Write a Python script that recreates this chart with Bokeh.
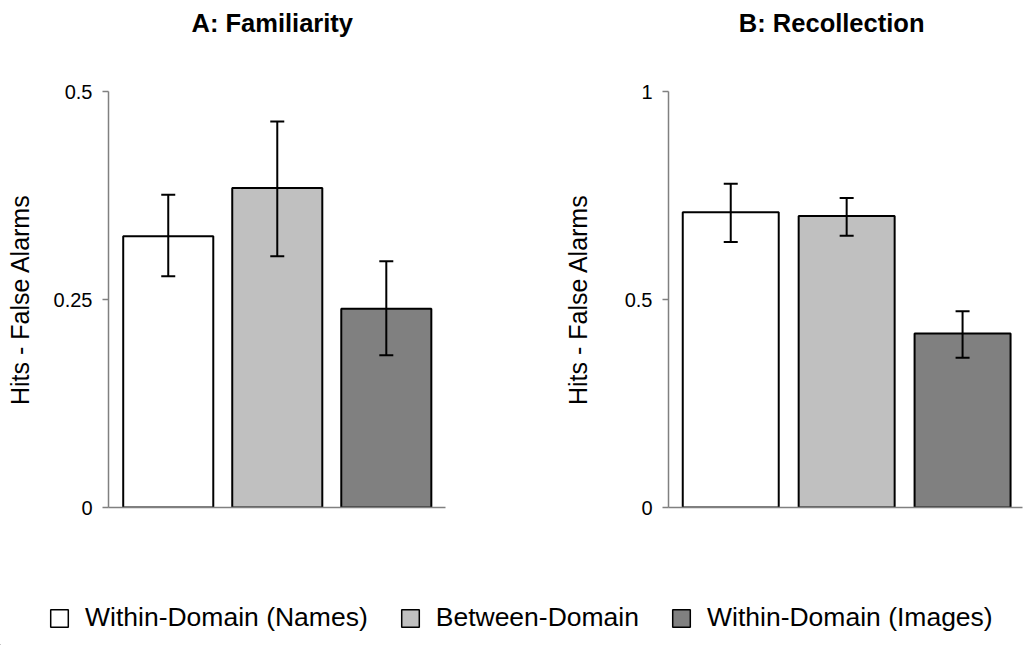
from bokeh.plotting import figure
from bokeh.models import (ColumnDataSource, Whisker, TeeHead, FixedTicker, Legend,
                          LegendItem, Range1d)
from bokeh.core.properties import value
from bokeh.layouts import row, column
from bokeh.embed import file_html
from bokeh.resources import INLINE

# ---- data ----
conditions = ["Within-Domain (Names)", "Between-Domain", "Within-Domain (Images)"]
colors = ["#ffffff", "#c0c0c0", "#808080"]

fam_values = [0.326, 0.384, 0.239]
fam_upper = [0.376, 0.464, 0.296]
fam_lower = [0.278, 0.302, 0.183]

rec_values = [0.710, 0.701, 0.418]
rec_upper = [0.778, 0.744, 0.472]
rec_lower = [0.638, 0.653, 0.360]

fam_ticks = [0, 0.25, 0.5]
fam_tick_labels = ["0", "0.25", "0.5"]
rec_ticks = [0, 0.5, 1]
rec_tick_labels = ["0", "0.5", "1"]

titles = ["A: Familiarity", "B: Recollection"]
y_label = "Hits - False Alarms"

FONT = "Liberation Sans"
AXIS_GRAY = "#808080"
TITLE_H = 45


def blank(p):
    p.axis.visible = False
    p.grid.visible = False
    p.outline_line_color = None


def title_fig(title, width, mb, x_rng, dx):
    t = figure(width=width, height=TITLE_H, x_range=Range1d(*x_rng),
               y_range=Range1d(0, 1), output_backend="svg", toolbar_location=None,
               min_border_left=mb[0], min_border_right=mb[1], min_border_top=0,
               min_border_bottom=0)
    blank(t)
    # centred over the middle category of the panel below
    t.text(x=[(len(conditions) - 1) / 2], y=[0.5], text=[title], x_offset=dx,
           text_align="center", text_baseline="middle", text_font=value(FONT),
           text_font_size="25.5px", text_font_style="bold", text_color="black")
    return t


def panel(vals, up, lo, ticks, tick_labels, width, height, mb, x_rng,
          bar_w, label_standoff):
    xs = list(range(len(conditions)))
    src = ColumnDataSource(dict(x=xs, top=vals, upper=up, lower=lo, color=colors))
    p = figure(width=width, height=height, x_range=Range1d(*x_rng),
               y_range=Range1d(ticks[0], ticks[-1]), output_backend="svg",
               toolbar_location=None, min_border_left=mb[0], min_border_right=mb[1],
               min_border_top=mb[2], min_border_bottom=mb[3])
    p.vbar(x="x", top="top", bottom=0, width=bar_w, fill_color="color",
           line_color="black", line_width=2, source=src)
    w = Whisker(base="x", upper="upper", lower="lower", source=src,
                line_width=2, line_color="black",
                upper_head=TeeHead(size=14, line_width=2, line_color="black"),
                lower_head=TeeHead(size=14, line_width=2, line_color="black"))
    w.level = "overlay"
    p.add_layout(w)

    p.grid.visible = False
    p.outline_line_color = None
    p.background_fill_color = "white"

    ya = p.yaxis[0]
    ya.ticker = FixedTicker(ticks=ticks)
    ya.major_label_overrides = {t: l for t, l in zip(ticks, tick_labels)}
    ya.axis_line_color = AXIS_GRAY
    ya.axis_line_width = 1.5
    ya.major_tick_line_color = AXIS_GRAY
    ya.major_tick_line_width = 1.5
    ya.major_tick_out = 6
    ya.major_tick_in = 0
    ya.minor_tick_line_color = None
    ya.major_label_standoff = 10
    ya.major_label_text_font_size = "20px"
    ya.major_label_text_font = FONT
    ya.major_label_text_color = "black"
    ya.axis_label = y_label
    ya.axis_label_text_font_size = "25px"
    ya.axis_label_text_font = FONT
    ya.axis_label_text_font_style = "normal"
    ya.axis_label_text_color = "black"
    ya.axis_label_standoff = label_standoff

    xa = p.xaxis[0]
    xa.ticker = FixedTicker(ticks=[])
    xa.axis_line_color = AXIS_GRAY
    xa.axis_line_width = 1.5
    xa.major_tick_line_color = None
    xa.minor_tick_line_color = None
    return p


A_XR = (-0.548, 2.543)
B_XR = (-0.537, 2.517)

tA = title_fig(titles[0], 520, (108, 75), A_XR, dx=-5)
tB = title_fig(titles[1], 504, (148, 2), B_XR, dx=-15)

pA = panel(fam_values, fam_upper, fam_lower, fam_ticks, fam_tick_labels,
           width=520, height=525, mb=(108, 75, 46, 63), x_rng=A_XR,
           bar_w=0.826, label_standoff=17)
pB = panel(rec_values, rec_upper, rec_lower, rec_ticks, rec_tick_labels,
           width=504, height=525, mb=(148, 2, 46, 63), x_rng=B_XR,
           bar_w=0.828, label_standoff=30)

# ---- legend ----
leg = figure(width=1024, height=75, x_range=Range1d(0, 1), y_range=Range1d(0, 1),
             output_backend="svg", toolbar_location=None, min_border=0)
blank(leg)
items = []
for lab, c in zip(conditions, colors):
    # legend-only renderer: its single point lies outside the visible range
    r = leg.vbar(x=[-5], top=[-5], bottom=[-6], width=0.1, fill_color=c,
                 line_color="black", line_width=1.5)
    items.append(LegendItem(label=lab, renderers=[r]))
legend = Legend(items=items, orientation="horizontal", location=(48, 12),
                glyph_width=22, glyph_height=22, label_standoff=15, spacing=31,
                padding=0, margin=0, border_line_color=None,
                background_fill_alpha=0, label_text_font_size="26.5px",
                label_text_font=FONT, label_text_color="black")
leg.add_layout(legend)

layout = column(row(tA, tB), row(pA, pB), leg)
open("out.html", "w").write(file_html(layout, INLINE))
